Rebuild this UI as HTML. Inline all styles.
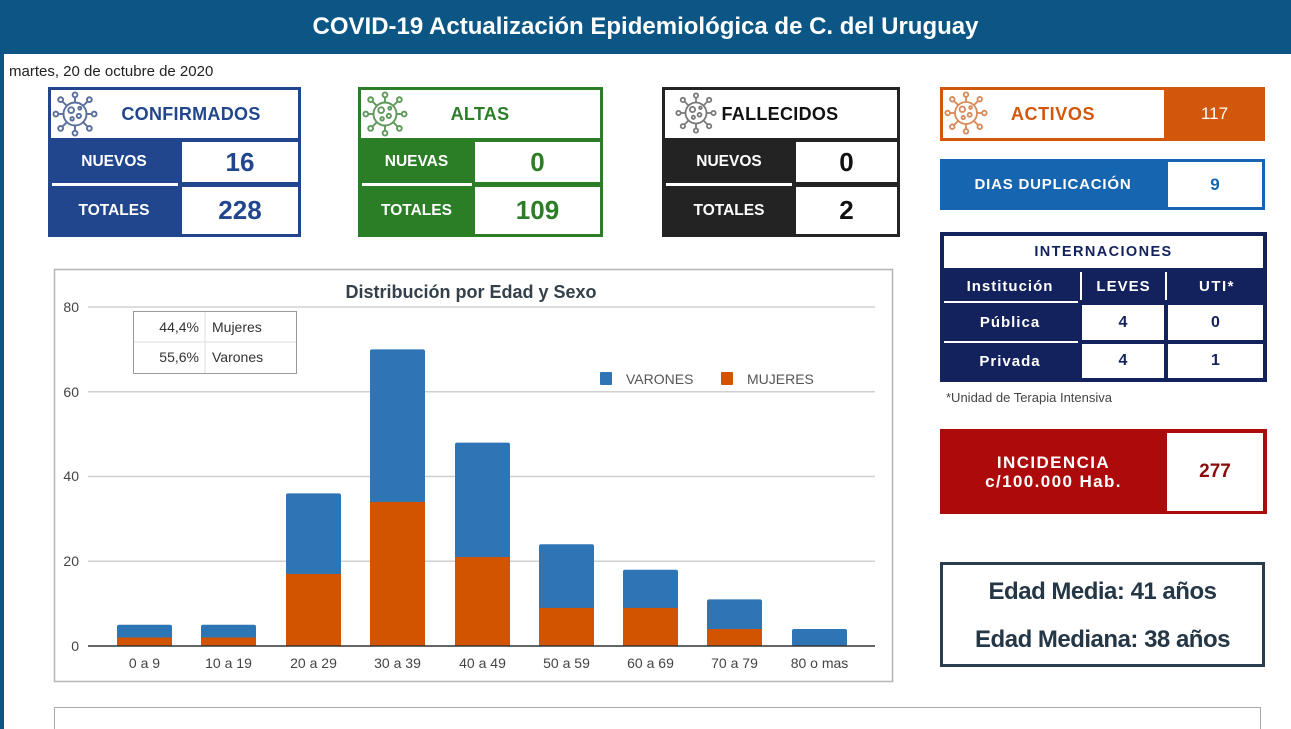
<!DOCTYPE html>
<html><head><meta charset="utf-8">
<style>
*{margin:0;padding:0;box-sizing:border-box}
html,body{width:1291px;height:729px;overflow:hidden}
body{background:#fff;font-family:"Liberation Sans",Arial,sans-serif;position:relative}
.a{position:absolute}
.c{display:flex;align-items:center;justify-content:center;text-align:center}
.lbl{color:#fff;font-weight:bold;font-size:15.5px}
.num{font-weight:bold;font-size:26px}
.ttl{font-weight:bold;font-size:18px;letter-spacing:0.3px}
.it{color:#fff;font-weight:bold;font-size:15px;letter-spacing:1px}
</style></head><body>
<svg width="0" height="0" style="position:absolute">
<defs>
<symbol id="virus" viewBox="0 0 48 48">
<g fill="none" stroke="currentColor" stroke-width="2">
<circle cx="24" cy="24" r="12"/>
<g>
<line x1="24" y1="12" x2="24" y2="6"/><circle cx="24" cy="4" r="2.5"/>
<line x1="24" y1="36" x2="24" y2="42"/><circle cx="24" cy="44" r="2.5"/>
<line x1="12" y1="24" x2="6" y2="24"/><circle cx="4" cy="24" r="2.5"/>
<line x1="36" y1="24" x2="42" y2="24"/><circle cx="44" cy="24" r="2.5"/>
<line x1="15.5" y1="15.5" x2="11" y2="11"/><circle cx="9" cy="9" r="2.5"/>
<line x1="32.5" y1="15.5" x2="37" y2="11"/><circle cx="39" cy="9" r="2.5"/>
<line x1="15.5" y1="32.5" x2="11" y2="37"/><circle cx="9" cy="39" r="2.5"/>
<line x1="32.5" y1="32.5" x2="37" y2="37"/><circle cx="39" cy="39" r="2.5"/>
</g>
<circle cx="20" cy="20" r="3"/><circle cx="28" cy="26" r="2.2"/><circle cx="21" cy="29" r="1.8"/><circle cx="29" cy="18" r="1.5"/>
</g>
</symbol>
</defs>
</svg>

<!-- header -->
<div class="a c" style="left:0;top:0;width:1291px;height:54px;background:#0b5685;color:#fff;font-weight:bold;font-size:24px;">COVID-19 Actualización Epidemiológica de C. del Uruguay</div>
<div class="a" style="left:0;top:54px;width:4px;height:675px;background:#0b5685"></div>
<div class="a" style="left:9px;top:63px;font-size:15px;color:#222">martes, 20 de octubre de 2020</div>

<!-- CONFIRMADOS -->
<div class="a" style="left:48px;top:87px;width:253px;height:150px;background:#21468e"></div>
<div class="a" style="left:51px;top:90px;width:247px;height:48px;background:#fff"></div>
<svg class="a" style="left:52px;top:91px;color:#5a6f9c" width="46" height="46"><use href="#virus"/></svg>
<div class="a c ttl" style="left:100px;top:90px;width:182px;height:48px;color:#21468e">CONFIRMADOS</div>
<div class="a" style="left:182px;top:142px;width:116px;height:40px;background:#fff"></div>
<div class="a" style="left:182px;top:187px;width:116px;height:47px;background:#fff"></div>
<div class="a" style="left:52px;top:183px;width:126px;height:3px;background:#fff"></div>
<div class="a c lbl" style="left:48px;top:140px;width:132px;height:43px">NUEVOS</div>
<div class="a c lbl" style="left:48px;top:187px;width:132px;height:47px">TOTALES</div>
<div class="a c num" style="left:182px;top:142px;width:116px;height:40px;color:#21468e">16</div>
<div class="a c num" style="left:182px;top:187px;width:116px;height:47px;color:#21468e">228</div>

<!-- ALTAS -->
<div class="a" style="left:358px;top:87px;width:245px;height:150px;background:#2b7d26"></div>
<div class="a" style="left:361px;top:90px;width:239px;height:48px;background:#fff"></div>
<svg class="a" style="left:362px;top:91px;color:#5f9a5a" width="46" height="46"><use href="#virus"/></svg>
<div class="a c ttl" style="left:410px;top:90px;width:140px;height:48px;color:#2b7d26">ALTAS</div>
<div class="a" style="left:475px;top:142px;width:125px;height:40px;background:#fff"></div>
<div class="a" style="left:475px;top:187px;width:125px;height:47px;background:#fff"></div>
<div class="a" style="left:362px;top:183px;width:110px;height:3px;background:#fff"></div>
<div class="a c lbl" style="left:358px;top:140px;width:117px;height:43px">NUEVAS</div>
<div class="a c lbl" style="left:358px;top:187px;width:117px;height:47px">TOTALES</div>
<div class="a c num" style="left:475px;top:142px;width:125px;height:40px;color:#2b7d26">0</div>
<div class="a c num" style="left:475px;top:187px;width:125px;height:47px;color:#2b7d26">109</div>

<!-- FALLECIDOS -->
<div class="a" style="left:662px;top:87px;width:238px;height:150px;background:#232323"></div>
<div class="a" style="left:665px;top:90px;width:232px;height:48px;background:#fff"></div>
<svg class="a" style="left:675px;top:92px;color:#777" width="42" height="42"><use href="#virus"/></svg>
<div class="a c ttl" style="left:718px;top:90px;width:124px;height:48px;color:#111">FALLECIDOS</div>
<div class="a" style="left:796px;top:142px;width:101px;height:40px;background:#fff"></div>
<div class="a" style="left:796px;top:187px;width:101px;height:47px;background:#fff"></div>
<div class="a" style="left:666px;top:183px;width:126px;height:3px;background:#fff"></div>
<div class="a c lbl" style="left:662px;top:140px;width:134px;height:43px">NUEVOS</div>
<div class="a c lbl" style="left:662px;top:187px;width:134px;height:47px">TOTALES</div>
<div class="a c num" style="left:796px;top:142px;width:101px;height:40px;color:#111">0</div>
<div class="a c num" style="left:796px;top:187px;width:101px;height:47px;color:#111">2</div>

<!-- ACTIVOS -->
<div class="a" style="left:940px;top:87px;width:325px;height:54px;background:#d2570a"></div>
<div class="a" style="left:943px;top:90px;width:221px;height:48px;background:#fff"></div>
<svg class="a" style="left:944px;top:91px;color:#d98a5a" width="44" height="44"><use href="#virus"/></svg>
<div class="a c ttl" style="left:990px;top:90px;width:126px;height:48px;color:#d2570a;letter-spacing:0.6px">ACTIVOS</div>
<div class="a c" style="left:1164px;top:87px;width:101px;height:54px;color:#fff;font-size:17px">117</div>

<!-- DIAS DUPLICACION -->
<div class="a" style="left:940px;top:159px;width:325px;height:51px;background:#1565b0"></div>
<div class="a" style="left:1168px;top:162px;width:94px;height:45px;background:#fff"></div>
<div class="a c" style="left:940px;top:159px;width:226px;height:51px;color:#fff;font-weight:bold;font-size:15px;letter-spacing:0.8px">DIAS DUPLICACIÓN</div>
<div class="a c" style="left:1168px;top:162px;width:94px;height:45px;color:#1565b0;font-weight:bold;font-size:17px">9</div>

<!-- INTERNACIONES -->
<div class="a" style="left:940px;top:232px;width:327px;height:150px;background:#13225c"></div>
<div class="a c" style="left:944px;top:236px;width:319px;height:32px;background:#fff;color:#13225c;font-weight:bold;font-size:14.5px;letter-spacing:1.4px">INTERNACIONES</div>
<div class="a" style="left:1080px;top:272px;width:2px;height:28px;background:#fff"></div>
<div class="a" style="left:1165px;top:272px;width:2px;height:28px;background:#fff"></div>
<div class="a" style="left:944px;top:301px;width:134px;height:2px;background:#fff"></div>
<div class="a" style="left:944px;top:341px;width:134px;height:2px;background:#fff"></div>
<div class="a c it" style="left:940px;top:270px;width:140px;height:32px">Institución</div>
<div class="a c it" style="left:1082px;top:270px;width:83px;height:32px">LEVES</div>
<div class="a c it" style="left:1167px;top:270px;width:100px;height:32px;letter-spacing:1.5px">UTI*</div>
<div class="a c it" style="left:940px;top:304px;width:140px;height:36px">Pública</div>
<div class="a c it" style="left:940px;top:343px;width:140px;height:36px">Privada</div>
<div class="a c" style="left:1082px;top:305px;width:82px;height:35px;background:#fff;color:#13225c;font-weight:bold;font-size:16px">4</div>
<div class="a c" style="left:1168px;top:305px;width:95px;height:35px;background:#fff;color:#13225c;font-weight:bold;font-size:16px">0</div>
<div class="a c" style="left:1082px;top:344px;width:82px;height:34px;background:#fff;color:#13225c;font-weight:bold;font-size:16px">4</div>
<div class="a c" style="left:1168px;top:344px;width:95px;height:34px;background:#fff;color:#13225c;font-weight:bold;font-size:16px">1</div>
<div class="a" style="left:946px;top:390px;font-size:13px;color:#444">*Unidad de Terapia Intensiva</div>

<!-- INCIDENCIA -->
<div class="a" style="left:940px;top:429px;width:327px;height:85px;background:#ad0b0b"></div>
<div class="a" style="left:1167px;top:433px;width:96px;height:78px;background:#fff"></div>
<div class="a c" style="left:940px;top:429px;width:227px;height:85px;color:#fff;font-weight:bold;font-size:17px;line-height:19px;letter-spacing:1.4px">INCIDENCIA<br>c/100.000 Hab.</div>
<div class="a c" style="left:1167px;top:433px;width:96px;height:78px;color:#8b0a0a;font-weight:bold;font-size:19px">277</div>

<!-- EDAD -->
<div class="a" style="left:940px;top:562px;width:325px;height:105px;border:3px solid #2a3d4c"></div>
<div class="a c" style="left:940px;top:576px;width:325px;height:32px;color:#253746;font-weight:bold;font-size:24px;letter-spacing:-0.5px">Edad Media: 41 años</div>
<div class="a c" style="left:940px;top:624px;width:325px;height:32px;color:#253746;font-weight:bold;font-size:24px;letter-spacing:-0.5px">Edad Mediana: 38 años</div>

<!-- bottom box -->
<div class="a" style="left:54px;top:707px;width:1207px;height:40px;border:1px solid #aaa"></div>

<!-- CHART -->
<svg class="a" style="left:0;top:0" width="1291" height="729" font-family="Liberation Sans, Arial, sans-serif">
<rect x="54.5" y="269.5" width="838" height="412" fill="#fff" stroke="#b5b5b5" stroke-width="1.5"/>
<text x="471" y="298" text-anchor="middle" font-size="18" font-weight="bold" fill="#34404a">Distribución por Edad y Sexo</text>
<g stroke="#d0d0d0" stroke-width="1.5">
<line x1="88" y1="307" x2="875" y2="307"/>
<line x1="88" y1="391.75" x2="875" y2="391.75"/>
<line x1="88" y1="476.5" x2="875" y2="476.5"/>
<line x1="88" y1="561.25" x2="875" y2="561.25"/>
</g>
<g font-size="14" fill="#444" text-anchor="end">
<text x="79" y="312">80</text>
<text x="79" y="397">60</text>
<text x="79" y="481">40</text>
<text x="79" y="566">20</text>
<text x="79" y="651">0</text>
</g>
<g>
<rect x="117" y="624.8" width="55" height="21.2" fill="#2e75b5" rx="2"/>
<rect x="117" y="637.5" width="55" height="8.5" fill="#d35400"/>
<rect x="201" y="624.8" width="55" height="21.2" fill="#2e75b5" rx="2"/>
<rect x="201" y="637.5" width="55" height="8.5" fill="#d35400"/>
<rect x="286" y="493.4" width="55" height="152.6" fill="#2e75b5" rx="2"/>
<rect x="286" y="574" width="55" height="72" fill="#d35400"/>
<rect x="370" y="349.4" width="55" height="296.6" fill="#2e75b5" rx="2"/>
<rect x="370" y="501.9" width="55" height="144.1" fill="#d35400"/>
<rect x="455" y="442.6" width="55" height="203.4" fill="#2e75b5" rx="2"/>
<rect x="455" y="557" width="55" height="89" fill="#d35400"/>
<rect x="539" y="544.3" width="55" height="101.7" fill="#2e75b5" rx="2"/>
<rect x="539" y="607.9" width="55" height="38.1" fill="#d35400"/>
<rect x="623" y="569.7" width="55" height="76.3" fill="#2e75b5" rx="2"/>
<rect x="623" y="607.9" width="55" height="38.1" fill="#d35400"/>
<rect x="707" y="599.4" width="55" height="46.6" fill="#2e75b5" rx="2"/>
<rect x="707" y="629" width="55" height="17" fill="#d35400"/>
<rect x="792" y="629" width="55" height="17" fill="#2e75b5" rx="2"/>
</g>
<line x1="88" y1="646" x2="875" y2="646" stroke="#333" stroke-width="1.5"/>
<g font-size="14" fill="#444" text-anchor="middle">
<text x="144.5" y="668">0 a 9</text>
<text x="228.5" y="668">10 a 19</text>
<text x="313.5" y="668">20 a 29</text>
<text x="397.5" y="668">30 a 39</text>
<text x="482.5" y="668">40 a 49</text>
<text x="566.5" y="668">50 a 59</text>
<text x="650.5" y="668">60 a 69</text>
<text x="734.5" y="668">70 a 79</text>
<text x="819.5" y="668">80 o mas</text>
</g>
<rect x="133.5" y="311.5" width="163" height="62" fill="#fff" stroke="#999" stroke-width="1"/>
<line x1="134" y1="342" x2="296" y2="342" stroke="#ddd"/>
<line x1="205" y1="312" x2="205" y2="373" stroke="#ddd"/>
<g font-size="14" fill="#333">
<text x="199" y="332" text-anchor="end">44,4%</text>
<text x="212" y="332">Mujeres</text>
<text x="199" y="362" text-anchor="end">55,6%</text>
<text x="212" y="362">Varones</text>
</g>
<rect x="600" y="372" width="12" height="13" fill="#2e75b5" rx="1"/>
<text x="626" y="384" font-size="14" fill="#555">VARONES</text>
<rect x="721" y="372" width="12" height="13" fill="#d35400" rx="1"/>
<text x="747" y="384" font-size="14" fill="#555">MUJERES</text>
</svg>
</body></html>
